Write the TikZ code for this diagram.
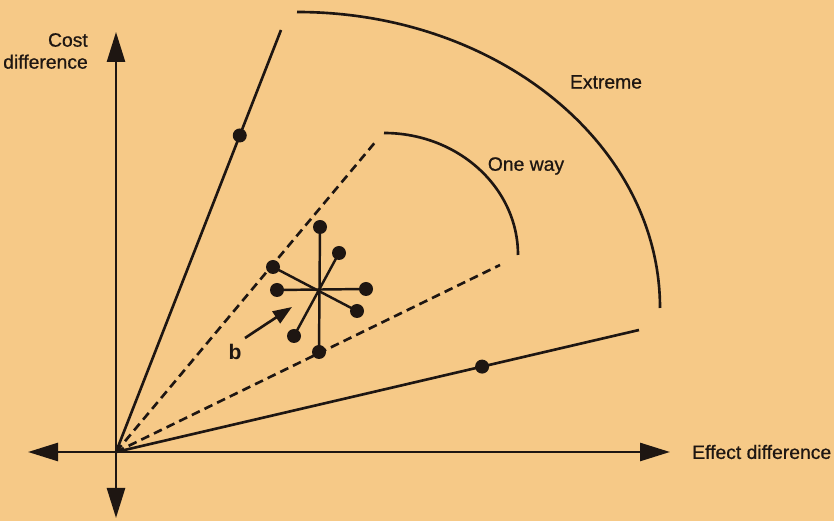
\documentclass[tikz,border=0pt]{standalone}
\usepackage{fontspec}
\setmainfont{Liberation Sans}
\newfontfamily\lblfont[FakeBold=0.7]{Liberation Sans}
\usepackage{tikz}
\usetikzlibrary{arrows.meta}

\definecolor{paper}{RGB}{246,201,135}
\definecolor{ink}{RGB}{30,22,18}

\begin{document}
\begin{tikzpicture}[
  axis/.style={draw=ink, line width=1.5pt, -{Triangle[length=0.6cm, width=0.36cm]}},
  ray/.style={draw=ink, line width=1.5pt},
  dashray/.style={draw=ink, line width=1.5pt, dash pattern=on 5pt off 3pt},
  dot/.style={circle, fill=ink, inner sep=0pt, minimum size=0.28cm},
  lbl/.style={text=ink, font=\lblfont\fontsize{11}{12.5}\selectfont, align=right}
]
  \fill[paper] (0,0) rectangle (16.68,10.42);
  \useasboundingbox (0,0) rectangle (16.68,10.42);

  % axes
  \coordinate (O) at (2.32,1.38);
  \coordinate (up) at (2.32,9.78);
  \coordinate (down) at (2.32,0.06);
  \coordinate (left) at (0.56,1.38);
  \coordinate (right) at (13.40,1.38);
  \draw[axis] (O) -- (up);
  \draw[axis] (O) -- (down);
  \draw[axis] (O) -- (left);
  \draw[axis] (O) -- (right);

  \node[lbl, anchor=east] (cost) at (1.88,9.40) {Cost\\difference};
  \node[lbl, anchor=west] (effect) at (13.72,1.38) {Effect difference};

  % extreme and one-way rays
  \coordinate (ext1) at (5.62,9.82);
  \coordinate (ext2) at (12.78,3.82);
  \coordinate (one1) at (7.54,7.62);
  \coordinate (one2) at (10.00,5.12);
  \draw[ray] (O) -- (ext1) node[dot, pos=0.75] (m1) {};
  \draw[ray] (O) -- (ext2) node[dot, pos=0.7] (m2) {};
  \draw[dashray] (O) -- (one1);
  \draw[dashray] (O) -- (one2);

  % arcs
  \draw[ray] (5.94,10.18) arc[start angle=90, end angle=0, x radius=7.26, y radius=5.92];
  \draw[ray] (7.68,7.76) arc[start angle=90, end angle=0, x radius=2.68, y radius=2.44];
  \node[lbl] (extreme) at (12.12,8.78) {Extreme};
  \node[lbl] (oneway) at (10.52,7.10) {One way};

  % star of estimates
  \coordinate (c) at (6.36,4.62);
  \node[dot] (s1) at (6.40,5.88) {};
  \node[dot] (s2) at (6.78,5.36) {};
  \node[dot] (s3) at (5.46,5.08) {};
  \node[dot] (s4) at (5.54,4.62) {};
  \node[dot] (s5) at (7.32,4.64) {};
  \node[dot] (s6) at (7.14,4.20) {};
  \node[dot] (s7) at (5.88,3.70) {};
  \node[dot] (s8) at (6.38,3.38) {};
  \draw[ink, line width=1.4pt] (s1.center) -- (s8.center);
  \draw[ink, line width=1.4pt] (s4.center) -- (s5.center);
  \draw[ink, line width=1.4pt] (s3.center) -- (s6.center);
  \draw[ink, line width=1.4pt] (s2.center) -- (s7.center);

  \coordinate (bstart) at (4.90,3.66);
  \coordinate (bend) at (5.84,4.28);
  \draw[ink, line width=1.5pt, -{Triangle[length=0.38cm, width=0.28cm]}] (bstart) -- (bend);
  \node[lbl, font=\fontsize{12}{14}\selectfont\bfseries] (b) at (4.70,3.38) {b};
\end{tikzpicture}
\end{document}
